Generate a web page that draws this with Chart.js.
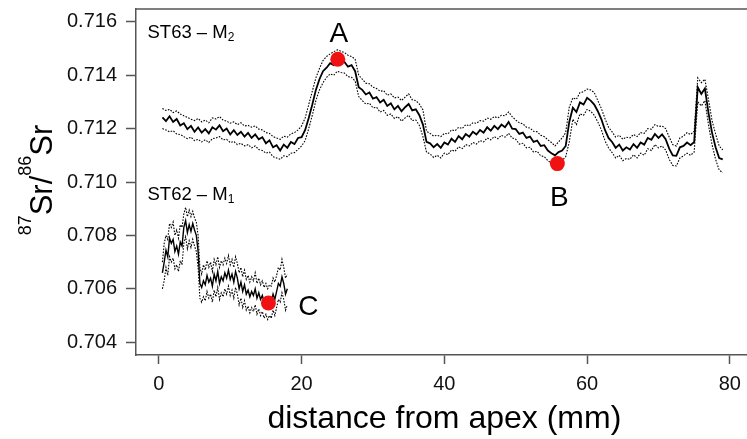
<!DOCTYPE html>
<html><head><meta charset="utf-8">
<script src="https://cdn.jsdelivr.net/npm/chart.js@4.4.1/dist/chart.umd.min.js"></script>
<style>html,body{margin:0;padding:0;background:#fff;overflow:hidden}canvas{display:block}</style>
</head><body>
<canvas id="c" width="747" height="439"></canvas>
<script>
// ---------- data ----------
const st63Dist = [0.5,1,1.5,2,2.5,3,3.5,4,4.5,5,5.5,6,6.5,7,7.5,8,8.5,9,9.5,10,10.5,11,11.5,12,12.5,13,13.5,14,14.5,15,15.5,16,16.5,17,17.5,18,18.5,19,19.5,20,20.5,21,21.5,22,22.5,23,23.5,24,24.5,25,25.5,26,26.5,27,27.5,28,28.5,29,29.5,30,30.5,31,31.5,32,32.5,33,33.5,34,34.5,35,35.5,36,36.5,37,37.5,38,38.5,39,39.5,40,40.5,41,41.5,42,42.5,43,43.5,44,44.5,45,45.5,46,46.5,47,47.5,48,48.5,49,49.5,50,50.5,51,51.5,52,52.5,53,53.5,54,54.5,55,55.5,56,56.5,57,57.5,58,58.5,59,59.5,60,60.5,61,61.5,62,62.5,63,63.5,64,64.5,65,65.5,66,66.5,67,67.5,68,68.5,69,69.5,70,70.5,71,71.5,72,72.5,73,73.5,74,74.5,75,75.5,76,76.5,77,77.5,78,78.5,79];
const st63Mean = [
0.71242,0.71228,0.71246,0.71225,0.71236,0.71212,0.71220,0.71198,0.71210,0.71188,
0.71204,0.71185,0.71198,0.71182,0.71205,0.71196,0.71212,0.71190,0.71200,0.71178,
0.71194,0.71176,0.71188,0.71170,0.71184,0.71165,0.71178,0.71160,0.71168,0.71145,
0.71156,0.71130,0.71138,0.71118,0.71140,0.71128,0.71150,0.71142,0.71165,0.71168,
0.71195,0.71240,0.71290,0.71345,0.71385,0.71415,0.71428,0.71445,0.71438,0.71455,
0.71448,0.71450,0.71432,0.71438,0.71415,0.71355,0.71345,0.71328,0.71335,0.71312,
0.71318,0.71298,0.71308,0.71285,0.71295,0.71272,0.71285,0.71265,0.71280,0.71292,
0.71268,0.71272,0.71250,0.71215,0.71150,0.71145,0.71130,0.71142,0.71128,0.71148,
0.71140,0.71162,0.71150,0.71172,0.71160,0.71180,0.71170,0.71188,0.71178,0.71195,
0.71185,0.71205,0.71192,0.71210,0.71198,0.71215,0.71205,0.71225,0.71200,0.71198,
0.71180,0.71185,0.71165,0.71170,0.71150,0.71155,0.71135,0.71138,0.71118,0.71108,
0.71100,0.71112,0.71118,0.71135,0.71225,0.71278,0.71262,0.71298,0.71290,0.71315,
0.71305,0.71290,0.71265,0.71235,0.71195,0.71165,0.71150,0.71128,0.71140,0.71118,
0.71130,0.71122,0.71142,0.71128,0.71148,0.71140,0.71165,0.71158,0.71180,0.71165,
0.71178,0.71160,0.71125,0.71100,0.71098,0.71130,0.71135,0.71148,0.71138,0.71150,
0.71355,0.71330,0.71350,0.71260,0.71185,0.71130,0.71090,0.71085];
const st63Upper = [
0.71275,0.71268,0.71272,0.71260,0.71266,0.71255,0.71248,0.71242,0.71235,0.71230,
0.71238,0.71225,0.71232,0.71222,0.71240,0.71236,0.71245,0.71232,0.71228,0.71220,
0.71225,0.71215,0.71222,0.71210,0.71212,0.71205,0.71210,0.71198,0.71195,0.71185,
0.71182,0.71170,0.71165,0.71160,0.71172,0.71168,0.71180,0.71185,0.71195,0.71210,
0.71240,0.71290,0.71340,0.71390,0.71425,0.71455,0.71470,0.71480,0.71488,0.71495,
0.71490,0.71485,0.71475,0.71470,0.71460,0.71400,0.71385,0.71370,0.71368,0.71355,
0.71350,0.71340,0.71342,0.71325,0.71330,0.71315,0.71318,0.71305,0.71318,0.71330,
0.71308,0.71305,0.71292,0.71270,0.71190,0.71182,0.71172,0.71175,0.71170,0.71182,
0.71180,0.71195,0.71192,0.71205,0.71200,0.71215,0.71210,0.71222,0.71220,0.71230,
0.71228,0.71240,0.71235,0.71245,0.71240,0.71250,0.71248,0.71262,0.71245,0.71232,
0.71222,0.71218,0.71205,0.71202,0.71190,0.71188,0.71175,0.71170,0.71158,0.71148,
0.71135,0.71150,0.71165,0.71185,0.71280,0.71315,0.71310,0.71335,0.71338,0.71348,
0.71345,0.71335,0.71305,0.71275,0.71238,0.71205,0.71188,0.71168,0.71175,0.71160,
0.71168,0.71165,0.71178,0.71170,0.71185,0.71182,0.71200,0.71198,0.71215,0.71208,
0.71210,0.71200,0.71168,0.71140,0.71135,0.71165,0.71172,0.71185,0.71178,0.71190,
0.71390,0.71372,0.71385,0.71310,0.71230,0.71180,0.71135,0.71120];
const st63Lower = [
0.71200,0.71195,0.71188,0.71192,0.71180,0.71178,0.71170,0.71162,0.71168,0.71155,
0.71160,0.71150,0.71158,0.71148,0.71162,0.71165,0.71170,0.71158,0.71160,0.71148,
0.71152,0.71140,0.71145,0.71135,0.71140,0.71128,0.71135,0.71122,0.71118,0.71108,
0.71112,0.71095,0.71090,0.71085,0.71098,0.71095,0.71108,0.71110,0.71122,0.71135,
0.71155,0.71200,0.71250,0.71305,0.71345,0.71372,0.71392,0.71405,0.71400,0.71415,
0.71410,0.71408,0.71395,0.71392,0.71378,0.71320,0.71305,0.71292,0.71295,0.71278,
0.71280,0.71262,0.71268,0.71250,0.71255,0.71238,0.71245,0.71228,0.71240,0.71250,
0.71230,0.71232,0.71212,0.71170,0.71112,0.71105,0.71092,0.71100,0.71090,0.71108,
0.71102,0.71120,0.71115,0.71132,0.71125,0.71140,0.71135,0.71148,0.71142,0.71155,
0.71150,0.71165,0.71158,0.71170,0.71162,0.71175,0.71168,0.71182,0.71165,0.71160,
0.71142,0.71145,0.71128,0.71130,0.71112,0.71115,0.71098,0.71095,0.71080,0.71070,
0.71062,0.71072,0.71080,0.71095,0.71150,0.71235,0.71215,0.71255,0.71250,0.71272,
0.71265,0.71250,0.71225,0.71195,0.71155,0.71128,0.71110,0.71090,0.71100,0.71080,
0.71088,0.71085,0.71102,0.71090,0.71108,0.71100,0.71125,0.71118,0.71140,0.71128,
0.71135,0.71120,0.71085,0.71062,0.71060,0.71090,0.71098,0.71108,0.71100,0.71112,
0.71300,0.71285,0.71305,0.71215,0.71140,0.71085,0.71045,0.71035];

const st62Dist = [0.5,0.75,1,1.25,1.5,1.75,2,2.25,2.5,2.75,3,3.25,3.5,3.75,4,4.25,4.5,4.75,5,5.25,5.5,5.75,6,6.25,6.5,6.75,7,7.25,7.5,7.75,8,8.25,8.5,8.75,9,9.25,9.5,9.75,10,10.25,10.5,10.75,11,11.25,11.5,11.75,12,12.25,12.5,12.75,13,13.25,13.5,13.75,14,14.25,14.5,14.75,15,15.25,15.5,15.75,16,16.25,16.5,16.75,17,17.25,17.5,17.75,18];
const st62Mean = [
0.70660,0.70700,0.70745,0.70720,0.70790,0.70770,0.70785,0.70740,0.70760,0.70730,
0.70775,0.70760,0.70830,0.70855,0.70810,0.70840,0.70815,0.70845,0.70820,0.70800,
0.70740,0.70620,0.70605,0.70630,0.70615,0.70650,0.70625,0.70640,0.70610,0.70655,
0.70630,0.70665,0.70620,0.70645,0.70630,0.70660,0.70640,0.70670,0.70635,0.70655,
0.70625,0.70665,0.70640,0.70600,0.70625,0.70590,0.70615,0.70580,0.70595,0.70570,
0.70590,0.70575,0.70600,0.70565,0.70585,0.70560,0.70575,0.70550,0.70565,0.70545,
0.70560,0.70550,0.70580,0.70560,0.70590,0.70620,0.70610,0.70645,0.70620,0.70580,
0.70600];
const st62Upper = [
0.70700,0.70770,0.70800,0.70785,0.70845,0.70830,0.70850,0.70800,0.70820,0.70790,
0.70840,0.70830,0.70880,0.70905,0.70870,0.70895,0.70870,0.70890,0.70865,0.70850,
0.70800,0.70680,0.70655,0.70690,0.70670,0.70705,0.70680,0.70700,0.70665,0.70710,
0.70690,0.70720,0.70680,0.70705,0.70690,0.70715,0.70695,0.70725,0.70690,0.70710,
0.70680,0.70720,0.70695,0.70660,0.70680,0.70645,0.70670,0.70635,0.70650,0.70625,
0.70645,0.70630,0.70660,0.70620,0.70640,0.70615,0.70630,0.70605,0.70620,0.70600,
0.70615,0.70610,0.70640,0.70625,0.70650,0.70680,0.70670,0.70710,0.70680,0.70640,
0.70655];
const st62Lower = [
0.70600,0.70630,0.70680,0.70650,0.70720,0.70700,0.70715,0.70675,0.70690,0.70665,
0.70705,0.70690,0.70770,0.70795,0.70750,0.70780,0.70755,0.70785,0.70760,0.70740,
0.70680,0.70565,0.70550,0.70570,0.70555,0.70590,0.70565,0.70580,0.70550,0.70595,
0.70570,0.70605,0.70560,0.70585,0.70570,0.70600,0.70580,0.70610,0.70575,0.70595,
0.70565,0.70605,0.70580,0.70540,0.70565,0.70530,0.70555,0.70520,0.70535,0.70510,
0.70530,0.70515,0.70540,0.70505,0.70525,0.70500,0.70515,0.70490,0.70505,0.70485,
0.70500,0.70490,0.70520,0.70500,0.70530,0.70560,0.70550,0.70585,0.70560,0.70520,
0.70540];

const markerNames = ['A', 'B', 'C'];
const markerDist  = [25.07, 55.83, 15.35];
const markerRatio = [0.71460, 0.71069, 0.70547];

const xTicks = [0, 20, 40, 60, 80];
const yTicks = [0.704, 0.706, 0.708, 0.710, 0.712, 0.714, 0.716];

// ---------- styling ----------
const FONT = "'Liberation Sans', Arial, Helvetica, sans-serif";
const FRAME = '#555';
const markerLabelOffset = [{dx: 1, dy: -27}, {dx: 2, dy: 32}, {dx: 40, dy: 2}];

const pts = (xs, ys) => xs.map((x, i) => ({x: x, y: ys[i]}));
const dotted = (data) => ({data, borderColor: '#000', borderWidth: 1.1, borderDash: [1.6, 1.4],
  pointRadius: 0, showLine: true, fill: false, tension: 0, order: 2});
const solid = (data, w) => ({data, borderColor: '#000', borderWidth: w,
  pointRadius: 0, showLine: true, fill: false, tension: 0, order: 1});

function drawRuns(ctx, x, y, runs, align) {
  let total = 0;
  runs.forEach(r => { ctx.font = r.size + 'px ' + FONT; r.w = ctx.measureText(r.t).width; total += r.w; });
  let cx = align === 'center' ? x - total / 2 : x;
  ctx.textAlign = 'left';
  ctx.textBaseline = 'alphabetic';
  runs.forEach(r => { ctx.font = r.size + 'px ' + FONT; ctx.fillText(r.t, cx, y + (r.dy || 0)); cx += r.w; });
}

const textPlugin = {
  id: 'texts',
  afterDraw(chart) {
    const ctx = chart.ctx, a = chart.chartArea;
    const xs = chart.scales.x, ys = chart.scales.y;
    ctx.save();
    // top frame edge
    ctx.strokeStyle = FRAME; ctx.lineWidth = 1.5;
    ctx.beginPath(); ctx.moveTo(a.left, a.top); ctx.lineTo(a.right, a.top); ctx.stroke();
    ctx.fillStyle = '#000';
    // x title
    drawRuns(ctx, xs.getPixelForValue(40), 428, [{t: 'distance from apex (mm)', size: 32}], 'center');
    // y title (rotated)
    ctx.save();
    ctx.translate(51.5, 180);
    ctx.rotate(-Math.PI / 2);
    drawRuns(ctx, 0, 0, [
      {t: '87', size: 18, dy: -21}, {t: 'Sr', size: 31}, {t: '/', size: 31},
      {t: '86', size: 18, dy: -21}, {t: 'Sr', size: 31}], 'center');
    ctx.restore();
    // series labels
    drawRuns(ctx, 147.5, 37.5, [{t: 'ST63 \u2013 M', size: 18.5}, {t: '2', size: 12, dy: 3}], 'left');
    drawRuns(ctx, 147.5, 199.5, [{t: 'ST62 \u2013 M', size: 18.5}, {t: '1', size: 12, dy: 3}], 'left');
    // marker letters
    markerNames.forEach((n, i) => {
      const px = xs.getPixelForValue(markerDist[i]) + markerLabelOffset[i].dx;
      const py = ys.getPixelForValue(markerRatio[i]) + markerLabelOffset[i].dy;
      drawRuns(ctx, px, py + 10, [{t: n, size: 28}], 'center');
    });
    ctx.restore();
  }
};

new Chart(document.getElementById('c'), {
  type: 'scatter',
  data: {
    datasets: [
      dotted(pts(st63Dist, st63Upper)),
      dotted(pts(st63Dist, st63Lower)),
      solid(pts(st63Dist, st63Mean), 1.8),
      dotted(pts(st62Dist, st62Upper)),
      dotted(pts(st62Dist, st62Lower)),
      solid(pts(st62Dist, st62Mean), 1.4),
      {data: pts(markerDist, markerRatio), pointRadius: 7.5, pointBackgroundColor: '#f01212',
       pointBorderWidth: 0, pointBorderColor: '#f01212', showLine: false, order: -1}
    ]
  },
  options: {
    responsive: false, animation: false, devicePixelRatio: 1, events: [],
    layout: {autoPadding: false, padding: {top: 9, left: 0, right: 0, bottom: 0}},
    plugins: {legend: {display: false}, tooltip: {enabled: false}},
    scales: {
      x: {
        type: 'linear', min: -3.2, max: 82.4,
        afterBuildTicks: s => { s.ticks = xTicks.map(v => ({value: v})); },
        afterFit: s => { s.height = 84; s.paddingLeft = 0; s.paddingRight = 0; },
        ticks: {font: {family: FONT, size: 20, lineHeight: 1}, color: '#111', padding: 10,
                maxRotation: 0, autoSkip: false, callback: v => String(v)},
        grid: {display: true, drawOnChartArea: false, drawTicks: true, tickLength: 9,
               tickColor: FRAME, tickWidth: 1.5, color: FRAME},
        border: {display: true, color: FRAME, width: 1.5}
      },
      y: {
        type: 'linear', min: 0.70352, max: 0.71648,
        afterBuildTicks: s => { s.ticks = yTicks.map(v => ({value: v})); },
        afterFit: s => { s.width = 136; s.paddingTop = 0; s.paddingBottom = 0; },
        ticks: {font: {family: FONT, size: 20, lineHeight: 1}, color: '#111', padding: 9,
                autoSkip: false, callback: v => v.toFixed(3)},
        grid: {display: true, drawOnChartArea: false, drawTicks: true, tickLength: 10,
               tickColor: FRAME, tickWidth: 1.5, color: FRAME},
        border: {display: true, color: FRAME, width: 1.5}
      }
    }
  },
  plugins: [textPlugin]
});
</script>
</body></html>
